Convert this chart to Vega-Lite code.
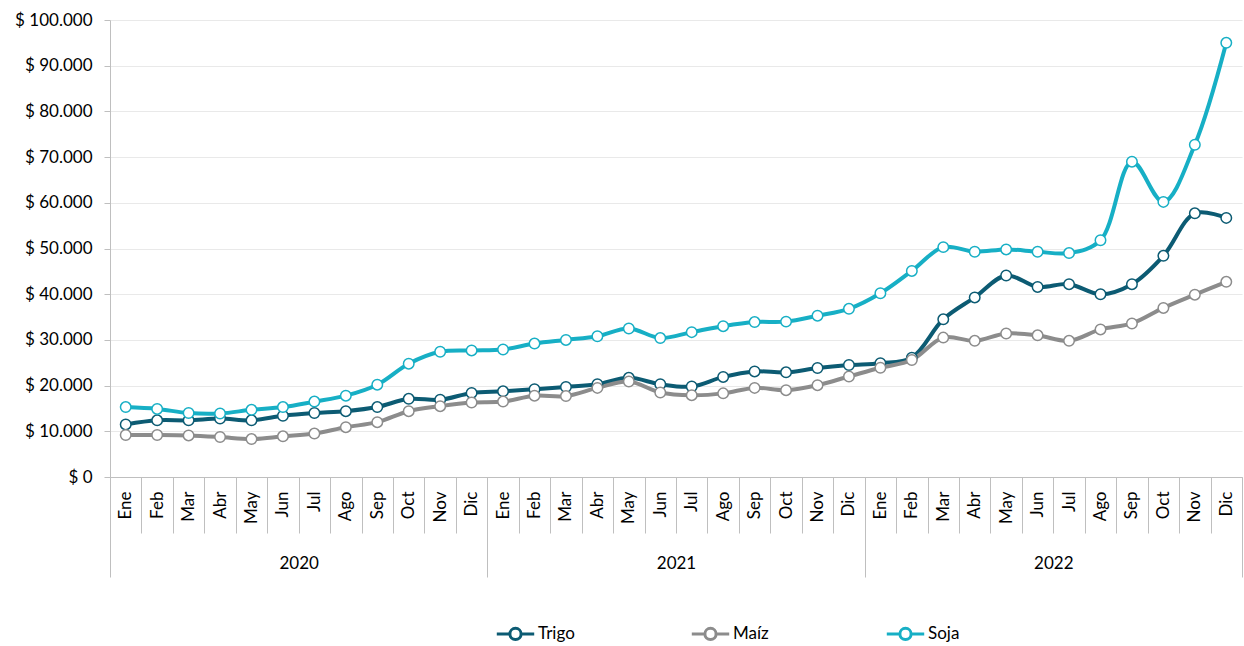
{
  "$schema": "https://vega.github.io/schema/vega-lite/v6.json",
  "width": 1132,
  "height": 457,
  "padding": {"top": 11, "left": 14, "right": 0, "bottom": 0},
  "config": {
    "locale": {"number": {"decimal": ",", "thousands": ".", "grouping": [3], "currency": ["$ ", ""]}},
    "font": "Lato",
    "view": {"stroke": null},
    "axis": {"labelFont": "Lato", "labelFontSize": 17, "labelColor": "#000000"},
    "legend": {"labelFont": "Lato", "labelFontSize": 17, "labelColor": "#000000"}
  },
  "resolve": {"scale": {"x": "independent"}},
  "layer": [
    {
      "data": {"values": [{"year": "2020"}, {"year": "2021"}, {"year": "2022"}]},
      "mark": {"type": "rule", "opacity": 0},
      "encoding": {
        "x": {
          "field": "year", "type": "ordinal",
          "scale": {"type": "band", "paddingInner": 0, "paddingOuter": 0},
          "axis": {
            "orient": "bottom", "title": null, "domain": false, "grid": false,
            "tickBand": "extent", "tickSize": 100, "tickColor": "#bfbfbf", "tickWidth": 1,
            "labelAngle": 0, "labelPadding": -22, "labelBaseline": "top"
          }
        }
      }
    },
    {
      "data": {"values": [
        {"k": "2020-01-Ene", "Trigo": 11500, "Maíz": 9200, "Soja": 15300},
        {"k": "2020-02-Feb", "Trigo": 12400, "Maíz": 9200, "Soja": 14900},
        {"k": "2020-03-Mar", "Trigo": 12400, "Maíz": 9100, "Soja": 14000},
        {"k": "2020-04-Abr", "Trigo": 12800, "Maíz": 8750, "Soja": 13900},
        {"k": "2020-05-May", "Trigo": 12400, "Maíz": 8300, "Soja": 14700},
        {"k": "2020-06-Jun", "Trigo": 13400, "Maíz": 8900, "Soja": 15300},
        {"k": "2020-07-Jul", "Trigo": 14000, "Maíz": 9500, "Soja": 16500},
        {"k": "2020-08-Ago", "Trigo": 14400, "Maíz": 10900, "Soja": 17800},
        {"k": "2020-09-Sep", "Trigo": 15300, "Maíz": 12000, "Soja": 20200},
        {"k": "2020-10-Oct", "Trigo": 17100, "Maíz": 14400, "Soja": 24800},
        {"k": "2020-11-Nov", "Trigo": 16900, "Maíz": 15500, "Soja": 27400},
        {"k": "2020-12-Dic", "Trigo": 18400, "Maíz": 16300, "Soja": 27700},
        {"k": "2021-01-Ene", "Trigo": 18750, "Maíz": 16500, "Soja": 27900},
        {"k": "2021-02-Feb", "Trigo": 19200, "Maíz": 17800, "Soja": 29200},
        {"k": "2021-03-Mar", "Trigo": 19700, "Maíz": 17700, "Soja": 30000},
        {"k": "2021-04-Abr", "Trigo": 20300, "Maíz": 19500, "Soja": 30800},
        {"k": "2021-05-May", "Trigo": 21700, "Maíz": 20900, "Soja": 32500},
        {"k": "2021-06-Jun", "Trigo": 20300, "Maíz": 18500, "Soja": 30400},
        {"k": "2021-07-Jul", "Trigo": 19800, "Maíz": 17900, "Soja": 31700},
        {"k": "2021-08-Ago", "Trigo": 21900, "Maíz": 18300, "Soja": 33000},
        {"k": "2021-09-Sep", "Trigo": 23100, "Maíz": 19500, "Soja": 33900},
        {"k": "2021-10-Oct", "Trigo": 22900, "Maíz": 19000, "Soja": 34000},
        {"k": "2021-11-Nov", "Trigo": 23850, "Maíz": 20100, "Soja": 35300},
        {"k": "2021-12-Dic", "Trigo": 24500, "Maíz": 22000, "Soja": 36800},
        {"k": "2022-01-Ene", "Trigo": 24900, "Maíz": 23900, "Soja": 40200},
        {"k": "2022-02-Feb", "Trigo": 26100, "Maíz": 25600, "Soja": 45100},
        {"k": "2022-03-Mar", "Trigo": 34500, "Maíz": 30500, "Soja": 50300},
        {"k": "2022-04-Abr", "Trigo": 39300, "Maíz": 29800, "Soja": 49300},
        {"k": "2022-05-May", "Trigo": 44100, "Maíz": 31400, "Soja": 49800},
        {"k": "2022-06-Jun", "Trigo": 41600, "Maíz": 31000, "Soja": 49300},
        {"k": "2022-07-Jul", "Trigo": 42200, "Maíz": 29800, "Soja": 49000},
        {"k": "2022-08-Ago", "Trigo": 40000, "Maíz": 32300, "Soja": 51800},
        {"k": "2022-09-Sep", "Trigo": 42200, "Maíz": 33600, "Soja": 69000},
        {"k": "2022-10-Oct", "Trigo": 48400, "Maíz": 37000, "Soja": 60200},
        {"k": "2022-11-Nov", "Trigo": 57700, "Maíz": 39900, "Soja": 72700},
        {"k": "2022-12-Dic", "Trigo": 56700, "Maíz": 42700, "Soja": 95000}
      ]},
      "transform": [{"fold": ["Trigo", "Maíz", "Soja"], "as": ["grano", "valor"]}],
      "encoding": {
        "x": {
          "field": "k", "type": "ordinal",
          "scale": {"type": "band", "paddingInner": 0, "paddingOuter": 0},
          "axis": {
            "orient": "bottom", "title": null, "grid": false,
            "domainColor": "#bfbfbf", "tickColor": "#bfbfbf", "tickBand": "extent", "tickSize": 56,
            "labelAngle": -90, "labelPadding": -42,
            "labelExpr": "split(datum.value, '-')[2]"
          }
        },
        "y": {
          "field": "valor", "type": "quantitative",
          "scale": {"domain": [0, 100000], "nice": false},
          "axis": {
            "title": null, "values": [0, 10000, 20000, 30000, 40000, 50000, 60000, 70000, 80000, 90000, 100000],
            "format": "$,.0f", "grid": true, "gridColor": "#e9e9e9",
            "domainColor": "#bfbfbf", "tickColor": "#bfbfbf", "tickSize": 6, "labelPadding": 12
          }
        },
        "color": {
          "field": "grano", "type": "nominal",
          "scale": {"domain": ["Trigo", "Maíz", "Soja"], "range": ["#0c5b73", "#8c8c8c", "#17afc5"]},
          "legend": {
            "orient": "none", "legendX": 385, "legendY": 593, "title": null, "direction": "horizontal", "columns": 3,
            "gridAlign": "all", "columnPadding": 110,
            "symbolType": "M-1,0H-0.3M0.3,0H1M-0.3,0A0.3,0.3 0 1,0 0.3,0A0.3,0.3 0 1,0 -0.3,0Z",
            "symbolSize": 1400, "symbolStrokeWidth": 3, "symbolFillColor": "#ffffff",
            "labelFontSize": 17, "labelOffset": 2
          }
        }
      },
      "layer": [
        {"mark": {"type": "line", "interpolate": "catmull-rom", "strokeWidth": 4}},
        {"mark": {"type": "point", "filled": false, "fill": "#ffffff", "size": 110, "strokeWidth": 1.5, "opacity": 1}}
      ]
    }
  ]
}
